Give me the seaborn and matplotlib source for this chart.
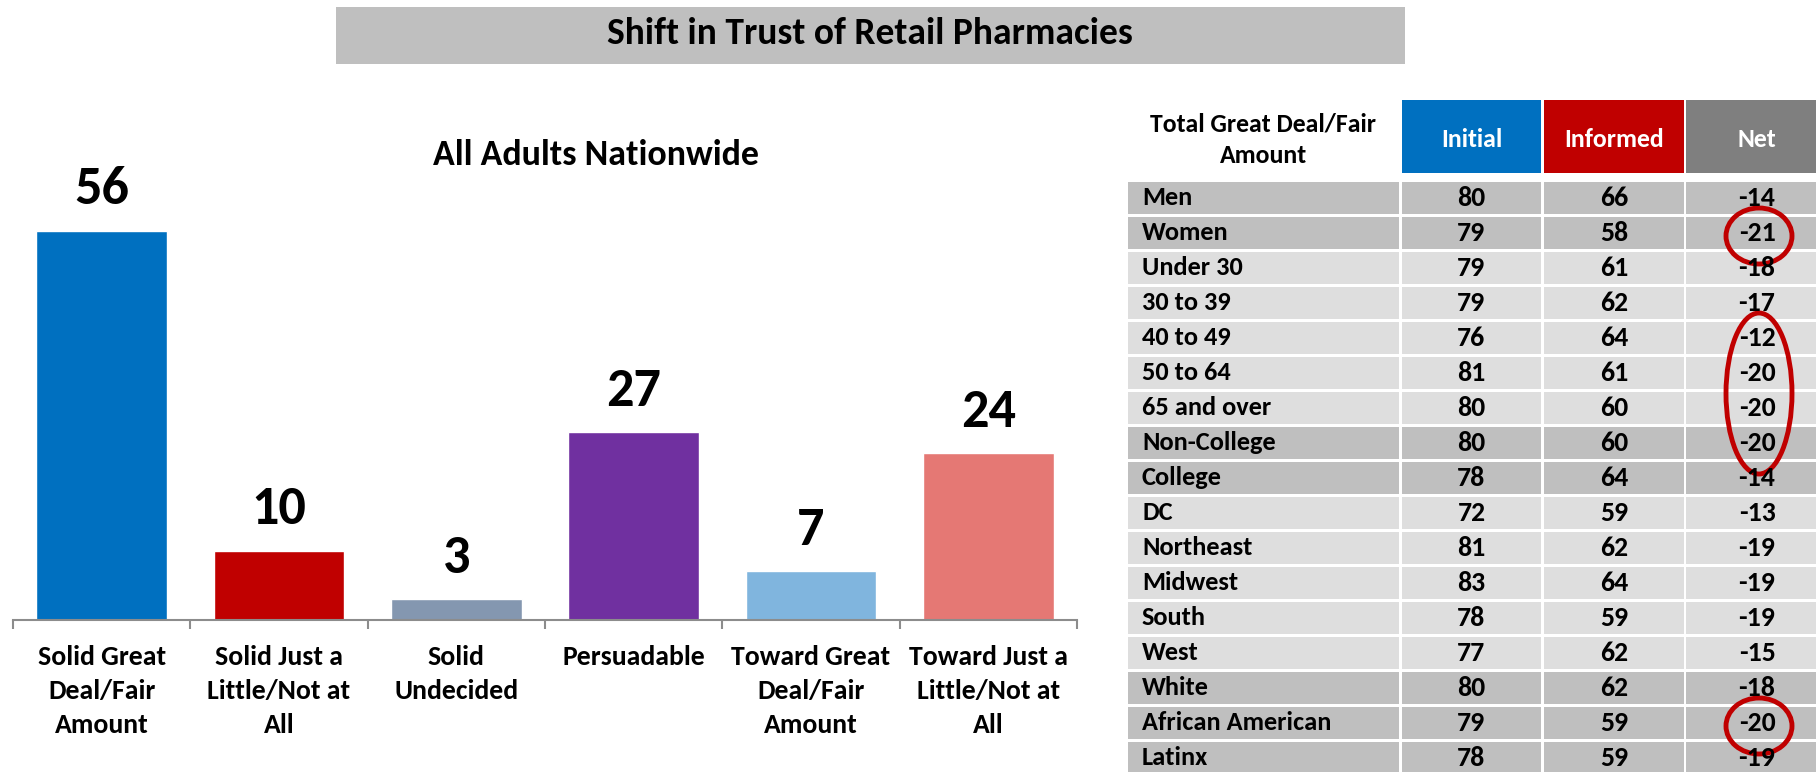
import matplotlib
matplotlib.use("Agg")
import matplotlib.pyplot as plt
from matplotlib.patches import Rectangle, Ellipse
import seaborn as sns
import pandas as pd

# ---- bar chart data ----
categories = [
    "Solid Great\nDeal/Fair\nAmount",
    "Solid Just a\nLittle/Not at\nAll",
    "Solid\nUndecided",
    "Persuadable",
    "Toward Great\nDeal/Fair\nAmount",
    "Toward Just a\nLittle/Not at\nAll",
]
shares = [56, 10, 3, 27, 7, 24]
bar_colors = ["#0070c0", "#c00000", "#8497b0", "#7030a0", "#80b5de", "#e57874"]

# ---- table data ----
groups = [
    "Men", "Women", "Under 30", "30 to 39", "40 to 49", "50 to 64",
    "65 and over", "Non-College", "College", "DC", "Northeast", "Midwest",
    "South", "West", "White", "African American", "Latinx",
]
initial = [80, 79, 79, 79, 76, 81, 80, 80, 78, 72, 81, 83, 78, 77, 80, 79, 78]
informed = [66, 58, 61, 62, 64, 61, 60, 60, 64, 59, 62, 64, 59, 62, 62, 59, 59]
net = [-14, -21, -18, -17, -12, -20, -20, -20, -14, -13, -19, -19, -19, -15, -18, -20, -19]
dark_rows = {"Men", "Women", "Non-College", "College", "White", "African American", "Latinx"}
# rows highlighted with red rings (first row, last row)
highlights = [(1, 1), (4, 7), (15, 15)]

sns.set_style("white")
plt.rcParams["font.family"] = ["Carlito", "DejaVu Sans"]
plt.rcParams["font.weight"] = "bold"
plt.rcParams["text.color"] = "black"

W, H = 1816, 772
fig = plt.figure(figsize=(W / 100, H / 100), dpi=100)


def fx(x):
    return x / W


def fy(y):
    return 1 - y / H


# ---- title banner ----
fig.patches.append(Rectangle((fx(336), fy(64)), fx(1405) - fx(336), fy(7) - fy(64),
                             transform=fig.transFigure, facecolor="#bfbfbf",
                             edgecolor="none", zorder=0))
fig.text(fx(870), fy(44), "Shift in Trust of Retail Pharmacies", ha="center",
         va="baseline", fontsize=27, fontweight="bold")

# ---- bar chart ----
base_y, top_y = 620, 130
ax = fig.add_axes([fx(13), fy(base_y), fx(1077) - fx(13), (base_y - top_y) / H])
df = pd.DataFrame({"category": categories, "share": shares})
sns.barplot(data=df, x="category", y="share", hue="category", palette=bar_colors,
            width=0.735, saturation=1, legend=False, ax=ax)
ax.set_xlim(-0.5, len(categories) - 0.5)
ax.set_ylim(0, (base_y - top_y) / 6.95)
ax.set_xlabel("")
ax.set_ylabel("")
ax.set_yticks([])
for side in ("left", "right", "top"):
    ax.spines[side].set_visible(False)
ax.spines["bottom"].set_color("#8c8c8c")
ax.spines["bottom"].set_linewidth(1.5)
ax.set_xticks(range(len(categories)))
ax.set_xticklabels(categories, fontsize=20, fontweight="bold", linespacing=1.5,
                   color="black")
ax.set_xticks([i - 0.5 for i in range(len(categories) + 1)], minor=True)
ax.tick_params(axis="x", which="major", length=0, pad=18)
ax.tick_params(axis="x", which="minor", length=6.5, width=1.5, color="#8c8c8c",
               direction="out", bottom=True)
for i, v in enumerate(shares):
    ax.annotate(str(v), (i, v), xytext=(0, 19), textcoords="offset points",
                ha="center", va="baseline", fontsize=39, fontweight="bold")

fig.text(fx(596), fy(165), "All Adults Nationwide", ha="center", va="baseline",
         fontsize=25.8, fontweight="bold")

# ---- table ----
tax = fig.add_axes([0, 0, 1, 1])
tax.set_xlim(0, W)
tax.set_ylim(H, 0)
tax.axis("off")
tax.patch.set_alpha(0)

cols = [(1128, 1399), (1402, 1541), (1544, 1684), (1686, 1828)]
head_top, head_bot = 100, 173
row0, pitch, row_h = 182, 35, 32

label_cx = (cols[0][0] + cols[0][1]) / 2
tax.text(label_cx, 132, "Total Great Deal/Fair", ha="center", va="baseline",
         fontsize=18.5, fontweight="bold")
tax.text(label_cx, 163, "Amount", ha="center", va="baseline",
         fontsize=18.5, fontweight="bold")
for (x0, x1), name, c in zip(cols[1:], ["Initial", "Informed", "Net"],
                             ["#0070c0", "#c00000", "#7f7f7f"]):
    tax.add_patch(Rectangle((x0, head_top), x1 - x0, head_bot - head_top,
                            facecolor=c, edgecolor="none"))
    tax.text((x0 + x1) / 2, 147, name, ha="center", va="baseline",
             fontsize=18.5, fontweight="bold", color="white")

for i, g in enumerate(groups):
    top = row0 + i * pitch
    fill = "#bfbfbf" if g in dark_rows else "#dedede"
    for x0, x1 in cols:
        tax.add_patch(Rectangle((x0, top), x1 - x0, row_h, facecolor=fill,
                                edgecolor="none"))
    base = top + 23
    tax.text(1142, base, g, ha="left", va="baseline", fontsize=19, fontweight="bold")
    for (x0, x1), val in zip(cols[1:], [initial[i], informed[i], net[i]]):
        tax.text((x0 + x1) / 2, base + 1, str(val), ha="center", va="baseline",
                 fontsize=20, fontweight="bold")

for r0, r1 in highlights:
    ytop = row0 + r0 * pitch
    ybot = row0 + r1 * pitch + row_h
    tax.add_patch(Ellipse((1759, (ytop + ybot) / 2 + 3), 66, ybot - ytop + 24,
                          fill=False, edgecolor="#c00000", linewidth=3.5))

fig.savefig("out.png", dpi=100)
